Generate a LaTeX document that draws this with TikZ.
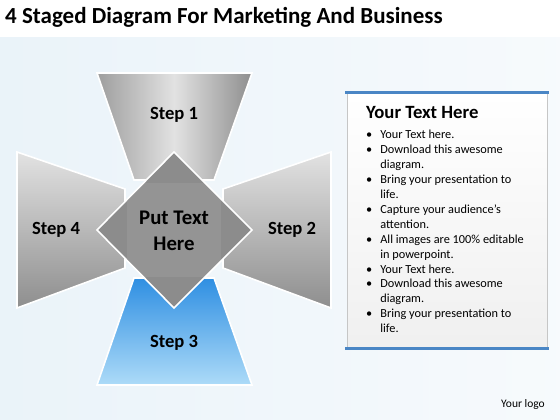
\documentclass[tikz,border=0pt]{standalone}
\usepackage{fontspec}
\setmainfont{Carlito}
\definecolor{bgblue}{HTML}{EAF3F9}
\definecolor{graylight}{HTML}{E2E2E2}
\definecolor{graydark}{HTML}{9E9E9E}
\definecolor{diamondgray}{HTML}{8C8C8C}
\definecolor{bluedark}{HTML}{2F8FE2}
\definecolor{bluelight}{HTML}{ADDBF8}
\definecolor{barblue}{HTML}{4A86C5}
\tikzset{
  stepshape/.style={draw=white, line width=1.6pt, line join=miter},
  steplabel/.style={font=\fontsize{18.6}{22}\selectfont\bfseries},
  bodytext/.style={font=\fontsize{12.3}{14.9}\selectfont}
}
\begin{document}
\begin{tikzpicture}[x=1pt,y=-1pt]
  \useasboundingbox (0,0) rectangle (560,420);
  \fill[white] (0,0) rectangle (560,420);
  \shade[left color=bgblue, right color=bgblue!40!white] (0,38) rectangle (560,420);

  \node[anchor=base west, inner sep=0pt, font=\fontsize{23}{26}\selectfont\bfseries] (title) at (5,24) {4 Staged Diagram For Marketing And Business};

  % four trapezoids round the centre
  \shade[stepshape, left color=graydark, right color=graydark!90!black, middle color=graylight]
    (97,73) -- (252,73) -- (214,180) -- (134,180) -- cycle;
  \shade[stepshape, shading angle=20, top color=graylight, bottom color=graydark!90!black]
    (17,152) -- (125,189) -- (125,268) -- (17,308) -- cycle;
  \shade[stepshape, shading angle=-20, top color=graylight, bottom color=graydark!90!black]
    (331,152) -- (223,189) -- (223,268) -- (331,308) -- cycle;
  \shade[stepshape, shading angle=200, top color=bluedark, bottom color=bluelight]
    (134,278) -- (214,278) -- (252,385) -- (97,385) -- cycle;

  % centre diamond
  \fill[diamondgray, draw=white, line width=1.6pt] (174,152) -- (252,230) -- (174,308) -- (97,230) -- cycle;
  \fill[white, opacity=0.07] (127,183) rectangle (221,277);

  \node[steplabel] (step1) at (174,115) {Step 1};
  \node[steplabel] (step2) at (292,230) {Step 2};
  \node[steplabel] (step3) at (174,343) {Step 3};
  \node[steplabel] (step4) at (56,230) {Step 4};
  \node[font=\fontsize{20.8}{26}\selectfont\bfseries, align=center] (centre) at (174,231) {Put Text\\Here};

  % text panel
  \shade[top color=white, bottom color=gray!12, draw=gray!45] (347,93) rectangle (547,348);
  \draw[barblue, line width=3pt] (345,93) -- (549,93);
  \draw[barblue, line width=3pt] (345,348) -- (549,348);
  \node[anchor=base west, inner sep=0pt, font=\fontsize{18.7}{22}\selectfont\bfseries] (heading) at (366,118) {Your Text Here};
  \node[anchor=base west, bodytext, inner sep=0pt] (points) at (366,139) {%
    \begin{tabular}[t]{@{}l@{\hspace{8pt}}l@{}}
      \textbullet & Your Text here.\\
      \textbullet & Download this awesome\\
                  & diagram.\\
      \textbullet & Bring your presentation to\\
                  & life.\\
      \textbullet & Capture your audience’s\\
                  & attention.\\
      \textbullet & All images are 100\% editable\\
                  & in powerpoint.\\
      \textbullet & Your Text here.\\
      \textbullet & Download this awesome\\
                  & diagram.\\
      \textbullet & Bring your presentation to\\
                  & life.
    \end{tabular}};

  \node[font=\fontsize{11.5}{14}\selectfont] (logo) at (523,404) {Your logo};
\end{tikzpicture}
\end{document}
